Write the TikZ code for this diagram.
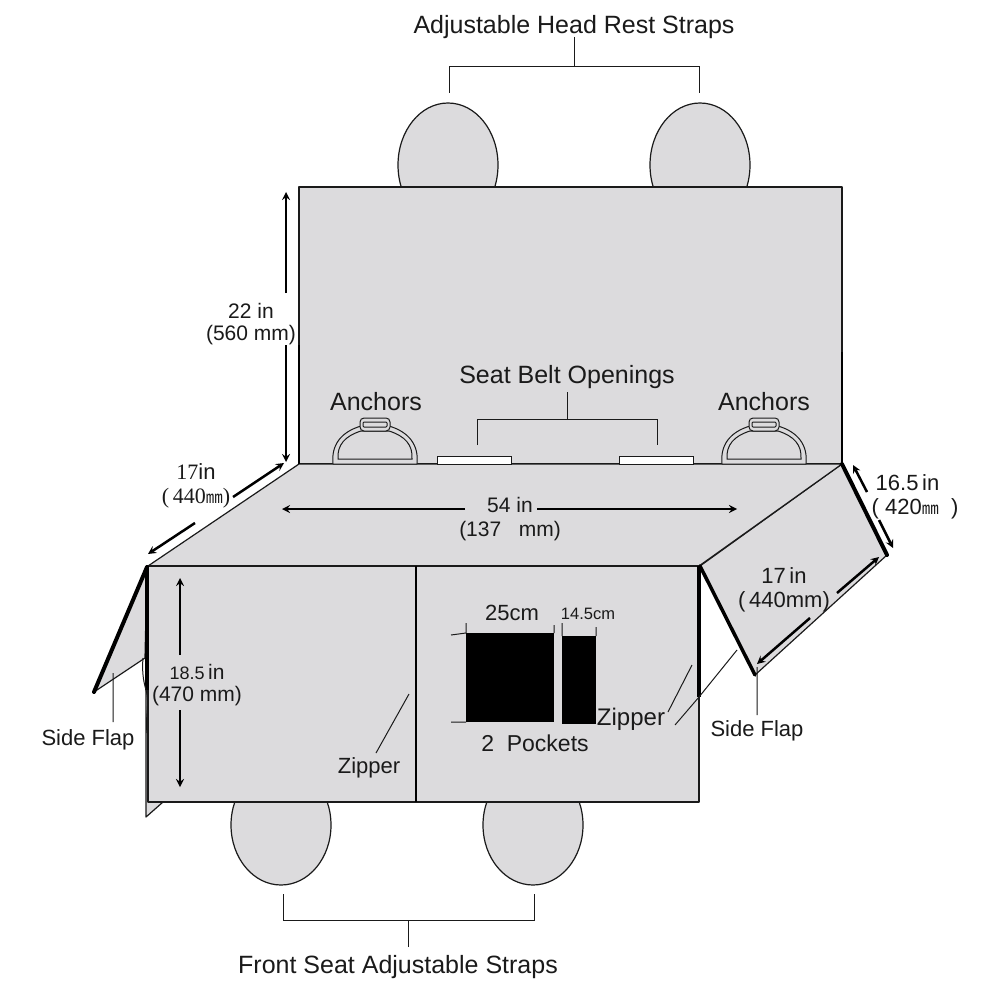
\documentclass[tikz,border=0pt]{standalone}
\usepackage{fontspec}
\setmainfont{Liberation Sans}
\newfontfamily\cjkfont{Noto Sans CJK SC}
\newfontfamily\seriffont{Liberation Serif}
\newcommand{\sqmm}{{\cjkfont\fontsize{17}{17}\selectfont ㎜}}
\definecolor{covergray}{HTML}{DCDBDD}
\definecolor{inkgray}{HTML}{1A1A1A}
\tikzset{
	panel/.style={draw=inkgray, fill=covergray, line width=1.2pt, line join=round},
	thickedge/.style={black, line width=3.5pt},
	thinline/.style={inkgray, line width=1pt},
	dimarrow/.style={black, line width=2.5pt, ->, >=stealth},
	lbl/.style={text=inkgray, inner sep=0pt, align=center, font=\fontsize{25}{27}\selectfont},
	smalllbl/.style={lbl, font=\fontsize{22}{24}\selectfont},
}
\begin{document}
\begin{tikzpicture}[x=1pt, y=-1pt]
	\useasboundingbox [fill=white] (0,0) rectangle (1000,1000);
	% straps behind the cover
	\foreach \x in {448, 700}
		\draw [panel] (\x,165) ellipse (50 and 62);
	\foreach \x in {281, 533}
		\draw [panel] (\x,825) ellipse (50 and 60);
	% flaps
	\draw [panel] (147,567) -- (94,692) -- (145,658) -- cycle;
	\draw [panel] (146,690) -- (146,817) -- (163,802) -- (148,690) -- cycle;
	\draw [panel] (842,464) -- (887,555) -- (755,675) -- (700,566) -- cycle;
	% cover
	\draw [panel] (299,187) rectangle (842,464);
	\draw [panel] (299,464) -- (842,464) -- (699,566) -- (148,566) -- cycle;
	\draw [panel] (148,566) rectangle (699,802);
	% thick edges and zippers
	\draw [thickedge, line width=2.8pt] (299,345) -- (299,464);
	\draw [thickedge, line width=2.8pt] (842,352) -- (842,464);
	\draw [thickedge, line width=4pt, line cap=round] (147,567) -- (94,692);
	\draw [thickedge] (147,566) -- (147,690);
	\draw [thickedge, line width=4pt, line cap=round] (842,464) -- (887,555);
	\draw [thickedge, line cap=round] (700,566) -- (755,675);
	\draw [thickedge] (699,566) -- (699,697);
	\draw [black, line width=2.5pt] (416,566) -- (416,802);
	\draw [thinline] (143,658) .. controls (142,670) and (143,680) .. (146,690);
	\draw [thinline] (146,690) .. controls (150,705) and (145,715) .. (147,733);
	\draw [thinline] (737,650) -- (699,697);
	% anchors
	\foreach \x in {375, 764} {
		\begin{scope}[xshift=\x pt]
			\draw [panel, line width=1pt] (-42,464) .. controls (-44,445) and (-34,432) .. (-14,426)
				-- (14,426) .. controls (34,432) and (44,445) .. (42,464) -- cycle;
			\draw [thinline] (-37,459) .. controls (-38,445) and (-30,436) .. (-14,431)
				-- (14,431) .. controls (30,436) and (38,445) .. (37,459) -- cycle;
			\draw [panel, line width=1pt, rounded corners=4pt] (-15,418) rectangle (15,431);
			\draw [thinline, rounded corners=1pt] (-12,422) rectangle (12,427);
		\end{scope}
	}
	% belt openings
	\draw [thinline, fill=white] (437,464) rectangle (511,456);
	\draw [thinline, fill=white] (619,464) rectangle (693,456);
	% pockets
	\fill [black] (466,633) rectangle (554,722);
	\fill [black] (562,636) rectangle (596,724);
	\coordinate (pa) at (466,623); \coordinate (pb) at (466,633);
	\coordinate (pc) at (554,625); \coordinate (pd) at (554,633);
	\coordinate (pe) at (562,623); \coordinate (pf) at (562,636);
	\coordinate (pg) at (596,627); \coordinate (ph) at (596,636);
	\coordinate (pi) at (451,635); \coordinate (pj) at (451,722); \coordinate (pk) at (466,722);
	\draw [thinline] (pa) -- (pb) (pc) -- (pd) (pe) -- (pf) (pg) -- (ph) (pi) -- (pb) (pj) -- (pk);
	% texts
	\node [lbl] (headrest) at (574,27) {Adjustable Head Rest Straps};
	\node [lbl] (frontseat) at (398,967) {Front Seat Adjustable Straps};
	\node [lbl] (beltopen) at (567,377) {Seat Belt Openings};
	\node [lbl] (anchorl) at (376,402) {Anchors};
	\node [lbl] (anchorr) at (764,402) {Anchors};
	\node [lbl, font=\fontsize{21}{22}\selectfont] (backdim) at (251,324) {22 in\\(560 mm)};
	\node [lbl, font=\fontsize{21}{24}\selectfont] (seatdim) at (510,519) {54 in\\(137\ \ \ mm)};
	\node [smalllbl] (leftdim) at (196,486) {{\seriffont 17}in\\{\seriffont (\,440}\sqmm{\seriffont )}};
	\node [lbl, font=\fontsize{21}{22}\selectfont] (frontdim) at (197,685) {{\fontsize{18}{18}\selectfont 18.5}\,in\\(470\ mm)};
	\node [smalllbl] (flapwid) at (915,497) {16.5\,in\hspace*{15pt}\\(\ 420\sqmm\ \ )};
	\node [smalllbl] (flaplong) at (784,590) {17\,in\\(\,440mm)};
	\node [smalllbl] (sideleft) at (88,740) {Side Flap};
	\node [smalllbl] (sideright) at (757,731) {Side Flap};
	\node [smalllbl] (zipperl) at (369,768) {Zipper};
	\node [lbl, font=\fontsize{24}{24}\selectfont] (zipperr) at (631,719) {Zipper};
	\node [lbl, font=\fontsize{22}{24}\selectfont] (pocketbig) at (512,613) {25cm};
	\node [lbl, font=\fontsize{16.5}{17}\selectfont] (pocketsmall) at (588,614) {14.5cm};
	\node [lbl, font=\fontsize{23}{24}\selectfont] (pockets) at (535,743) {2\ \ Pockets};
	% brackets
	\coordinate (hra) at (449,93); \coordinate (hrb) at (449,67); \coordinate (hrc) at (699,67); \coordinate (hrd) at (699,93);
	\coordinate (hrm) at (574,67); \coordinate (hrt) at (574,37);
	\draw [thinline] (hra) -- (hrb) -- (hrc) -- (hrd) (hrt) -- (hrm);
	\coordinate (fsa) at (283,894); \coordinate (fsb) at (283,920); \coordinate (fsc) at (534,920); \coordinate (fsd) at (534,894);
	\coordinate (fsm) at (408,920); \coordinate (fst) at (408,947);
	\draw [thinline] (fsa) -- (fsb) -- (fsc) -- (fsd) (fst) -- (fsm);
	\coordinate (sba) at (477,445); \coordinate (sbb) at (477,419); \coordinate (sbc) at (657,419); \coordinate (sbd) at (657,445);
	\coordinate (sbm) at (567,419); \coordinate (sbt) at (567,392);
	\draw [thinline] (sba) -- (sbb) -- (sbc) -- (sbd) (sbt) -- (sbm);
	% leaders
	\coordinate (zla) at (376,753); \coordinate (zlb) at (409,694);
	\coordinate (zra) at (668,712); \coordinate (zrb) at (692,665);
	\coordinate (zrc) at (675,725); \coordinate (zrd) at (699,697);
	\coordinate (sla) at (113,722); \coordinate (slb) at (113,673);
	\coordinate (sra) at (757,715); \coordinate (srb) at (757,667);
	\draw [thinline] (zla) -- (zlb) (zra) -- (zrb) (zrc) -- (zrd) (sla) -- (slb) (sra) -- (srb);
	% dimension arrows
	\coordinate (a1) at (286,293); \coordinate (a2) at (286,192);
	\coordinate (a3) at (286,345); \coordinate (a4) at (286,462);
	\coordinate (a5) at (233,497); \coordinate (a6) at (284,463);
	\coordinate (a7) at (195,523); \coordinate (a8) at (148,554);
	\coordinate (a9) at (465,509); \coordinate (a10) at (282,509);
	\coordinate (a11) at (537,509); \coordinate (a12) at (737,509);
	\coordinate (a13) at (180,655); \coordinate (a14) at (180,578);
	\coordinate (a15) at (180,710); \coordinate (a16) at (180,787);
	\coordinate (a17) at (867,492); \coordinate (a18) at (853,465);
	\coordinate (a19) at (879,520); \coordinate (a20) at (893,548);
	\coordinate (a21) at (837,593); \coordinate (a22) at (879,557);
	\coordinate (a23) at (810,618); \coordinate (a24) at (757,664);
	\foreach \s/\e in {a1/a2, a3/a4, a5/a6, a7/a8, a9/a10, a11/a12, a13/a14, a15/a16, a17/a18, a19/a20, a21/a22, a23/a24}
		\draw [dimarrow] (\s) -- (\e);
\end{tikzpicture}
\end{document}
